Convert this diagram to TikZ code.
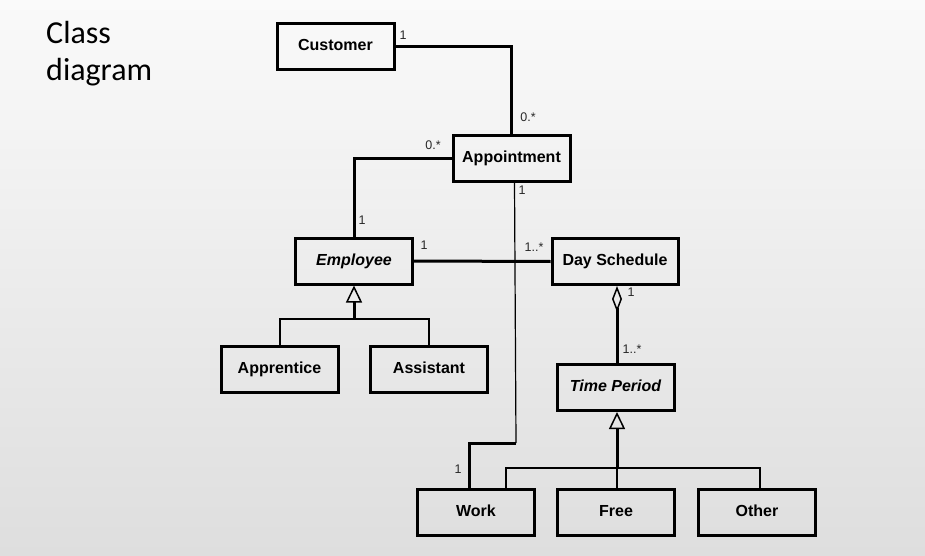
\documentclass[tikz,border=0pt]{standalone}
\usepackage{fontspec}
\setmainfont{Liberation Sans}
\newfontfamily\carlito{Carlito}
\usetikzlibrary{arrows.meta,calc}
\definecolor{bgtop}{RGB}{250,250,250}
\definecolor{bgbot}{RGB}{222,222,222}
\definecolor{labcol}{RGB}{40,40,40}
\tikzset{
  cls/.style={draw=black, line width=3pt, fill=none, minimum width=117pt, minimum height=46pt, inner sep=0pt,
    text height=11.5pt, text depth=3.5pt,
    font=\fontsize{16}{18}\selectfont\bfseries},
  assoc/.style={line width=3pt},
  thinassoc/.style={line width=1.2pt},
  genbranch/.style={line width=2pt},
  genstem/.style={line width=3pt, -{Triangle[open,length=17pt,width=16pt,line width=1.5pt]}},
  agg/.style={line width=3pt, {Diamond[open,length=26pt,width=10pt,line width=1.5pt]}-},
  mult/.style={font=\fontsize{12.5}{14}\selectfont, text=labcol, inner sep=0pt},
  title/.style={font=\carlito\fontsize{32}{37}\selectfont, anchor=base west, inner sep=0pt}
}
\begin{document}
\begin{tikzpicture}[x=1pt, y=-1pt]
\useasboundingbox (0,0) rectangle (925,556);
\shade[top color=bgtop, bottom color=bgbot] (0,0) rectangle (925,556);

\node[title] (t1) at (46,44) {Class};
\node[title] (t2) at (46,81) {diagram};

\node[cls] (cust) at (335.5,47) {Customer};
\node[cls] (app) at (511.5,158.5) {Appointment};
\node[cls] (emp) at (354,261) {\itshape Employee};
\node[cls, minimum width=126pt] (day) at (615,261.5) {Day Schedule};
\node[cls] (appr) at (279.5,369) {Apprentice};
\node[cls] (asst) at (429,369) {Assistant};
\node[cls] (tp) at (615.5,387.5) {\itshape Time Period};
\node[cls] (work) at (476,512.5) {Work};
\node[cls] (free) at (616,512.5) {Free};
\node[cls] (other) at (757,512.5) {Other};

% associations
\draw[assoc] (cust.east) -| (app.north);
\draw[assoc] (app.west) -| (emp.north);
\draw[assoc] (emp.east) -- (day.west);
\coordinate (bend) at (516,443);
\draw[thinassoc] ([xshift=3pt]app.south) -- (bend);
\draw[assoc] (bend) -| ([xshift=-7pt]work.north);

% aggregation
\draw[agg] ([xshift=2pt]day.south) -- ([xshift=1.5pt]tp.north);

% generalization Employee
\coordinate (ej) at ($(emp.south)+(0,33)$);
\draw[genbranch] (appr.north) |- (ej) -| (asst.north);
\draw[genstem] (ej) -- (emp.south);

% generalization Time Period
\coordinate (tj) at ($([xshift=1.5pt]tp.south)+(0,56)$);
\draw[genbranch] ([xshift=30pt]work.north) |- (tj) -| ([xshift=3pt]other.north);
\draw[genbranch] (tj) -- ([xshift=1pt]free.north);
\draw[genstem] (tj) -- ([xshift=1.5pt]tp.south);

% multiplicities
\node[mult] (m1) at (403,35) {1};
\node[mult] (m2) at (528,117) {0.*};
\node[mult] (m3) at (433,145) {0.*};
\node[mult] (m4) at (522,190) {1};
\node[mult] (m5) at (362,220) {1};
\node[mult] (m6) at (424,245) {1};
\node[mult] (m7) at (534,247) {1..*};
\node[mult] (m8) at (631,292) {1};
\node[mult] (m9) at (632,349) {1..*};
\node[mult] (m10) at (458,469) {1};
\end{tikzpicture}
\end{document}
